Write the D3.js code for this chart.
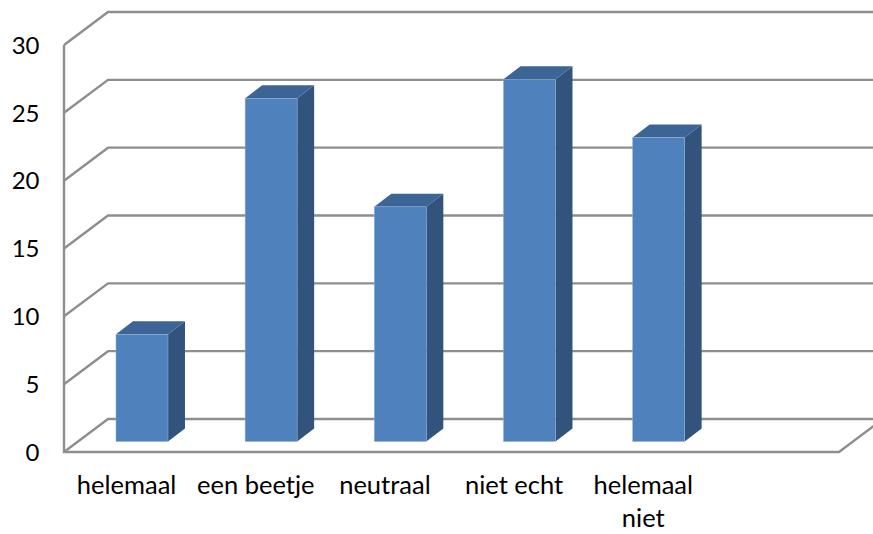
<!DOCTYPE html>
<html><head><meta charset="utf-8">
<script src="https://cdn.jsdelivr.net/npm/d3@7"></script>
<style>html,body{margin:0;padding:0;background:#fff}svg{display:block}text{font-family:Lato,Carlito,sans-serif}</style>
</head><body><svg id="c" width="873" height="534"></svg>
<script>
const categories = ["helemaal","een beetje","neutraal","niet echt","helemaal niet",""];
const values = [7.9,25.3,17.3,26.7,22.4,null];
const tickValues = [0,5,10,15,20,25,30];

const W=873,H=534, x0=64, x1=839, yBase=452, yTop=45, dx=44, dy=33;
const svg=d3.select("#c");
const x=d3.scaleBand().domain(categories).range([x0,x1]);
const y=d3.scaleLinear().domain([0,30]).range([yBase,yTop]);
const grid="#8e8e8e", gw=2.4;
const gridG=svg.append("g").attr("fill","none").attr("stroke",grid).attr("stroke-width",gw);
gridG.selectAll("path.g").data(tickValues).join("path").attr("class","g")
  .attr("d",v=>d3.line()([[x0,y(v)],[x0+dx,y(v)-dy],[W+2,y(v)-dy]]));
gridG.append("path").attr("d",d3.line()([[x0,yTop],[x0,yBase],[x1,yBase],[x1+dx,yBase-dy]]));

const barW=52, bz=10.5, bd=17, bh=13;
const bars=svg.append("g").selectAll("g").data(categories.map((c,i)=>({c,v:values[i]})).filter(d=>d.v!=null)).join("g");
const barLeft=d=>x(d.c)+x.bandwidth()/2-barW/2+13.4;
const barTop=d=>y(d.v)-bz;
const barBot=()=>y(0)-bz;
bars.append("path").attr("fill","#32547c").attr("d",d=>{const r=barLeft(d)+barW;return d3.line()([[r,barTop(d)],[r+bd,barTop(d)-bh],[r+bd,barBot()-bh],[r,barBot()]])+"Z"});
bars.append("path").attr("fill","#3c6494").attr("d",d=>{const l=barLeft(d),t=barTop(d);return d3.line()([[l,t],[l+bd,t-bh],[l+barW+bd,t-bh],[l+barW,t]])+"Z"});
bars.append("rect").attr("fill","#4f81bd").attr("stroke","#8fb0da").attr("stroke-width",0.5)
  .attr("x",barLeft).attr("y",barTop).attr("width",barW).attr("height",d=>barBot()-barTop(d));

const yAxis=svg.append("g").attr("transform",`translate(${x0},1)`).call(d3.axisLeft(y).tickValues(tickValues).tickSize(0).tickPadding(24.5));
yAxis.select(".domain").remove();
yAxis.selectAll("text").attr("font-size",24).attr("fill","#000").style("font-family","Lato,Carlito,sans-serif").attr("dy","0.3em");

const lab=svg.append("g").attr("font-size",25.5).attr("fill","#000").attr("text-anchor","middle");
categories.forEach(c=>{
  if(!c) return;
  const parts=c==="helemaal niet"?["helemaal","niet"]:[c];
  parts.forEach((p,i)=>lab.append("text").attr("x",x(c)+x.bandwidth()/2-2).attr("y",yBase+42+i*33).text(p));
});
</script></body></html>
